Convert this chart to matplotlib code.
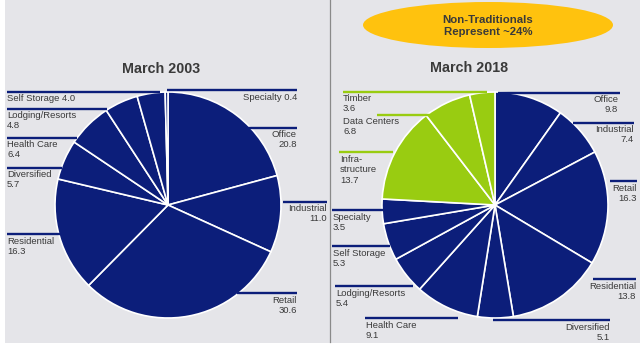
import matplotlib
matplotlib.use("Agg")
import matplotlib.pyplot as plt
from matplotlib.patches import Ellipse, Rectangle

# ---- data -------------------------------------------------------------
cats_2003 = ["Office", "Industrial", "Retail", "Residential", "Diversified",
             "Health Care", "Lodging/Resorts", "Self Storage", "Specialty"]
vals_2003 = [20.8, 11.0, 30.6, 16.3, 5.7, 6.4, 4.8, 4.0, 0.4]

cats_2018 = ["Office", "Industrial", "Retail", "Residential", "Diversified",
             "Health Care", "Lodging/Resorts", "Self Storage", "Specialty",
             "Infrastructure", "Data Centers", "Timber"]
vals_2018 = [9.8, 7.4, 16.3, 13.8, 5.1, 9.1, 5.4, 5.3, 3.5, 13.7, 6.8, 3.6]
non_traditional = ["Infrastructure", "Data Centers", "Timber"]

titles = ["March 2003", "March 2018"]
callout = "Non-Traditionals\nRepresent ~24%"

# ---- styling ----------------------------------------------------------
NAVY = "#0c1e7a"
GREEN = "#99cc11"
GOLD = "#ffc20e"
BG = "#e5e5e9"
TXT = "#3a3a3a"
FONT = "Liberation Sans"

W, H = 640, 348
fig = plt.figure(figsize=(6.4, 3.48), dpi=100)
ax = fig.add_axes([0, 0, 1, 1])


def Y(y):
    """Convert a top-down pixel row to the upward data axis."""
    return H - y


# panel background and divider
ax.add_patch(Rectangle((5, Y(343)), W - 5, 343, facecolor=BG, edgecolor="none", zorder=0))
ax.plot([330, 330], [Y(0), Y(342)], color="#8a8a8a", lw=0.9, zorder=1)

# pies
pie_specs = [
    (cats_2003, vals_2003, (168, 205), 113),
    (cats_2018, vals_2018, (495, 205), 113),
]
for cats, vals, (cx, cy), r in pie_specs:
    cols = [GREEN if c in non_traditional else NAVY for c in cats]
    ax.pie(vals, colors=cols, startangle=90, counterclock=False,
           center=(cx, Y(cy)), radius=r, frame=True,
           wedgeprops=dict(edgecolor="white", linewidth=1.2))

lab_2003 = dict(zip(cats_2003, vals_2003))
lab_2018 = dict(zip(cats_2018, vals_2018))

# label layout: (line_y, line_x0, line_x1, text_x, align, text_top, mode)
layout_2003 = {
    "Office":          (128, 240, 297, 297, "right", 130, None),
    "Industrial":      (202, 283, 327, 327, "right", 204, None),
    "Retail":          (293, 237, 297, 297, "right", 296, None),
    "Residential":     (234, 7, 60, 7, "left", 237, None),
    "Diversified":     (168, 7, 62, 7, "left", 170, None),
    "Health Care":     (138, 7, 77, 7, "left", 140, None),
    "Lodging/Resorts": (109, 7, 107, 7, "left", 111, None),
    "Self Storage":    (92, 7, 160, 7, "left", 94, "single"),
    "Specialty":       (90, 167, 297, 297, "right", 93, "single"),
}
layout_2018 = {
    "Office":          (93, 498, 620, 618, "right", 95, None),
    "Industrial":      (123, 573, 634, 634, "right", 125, None),
    "Retail":          (181, 610, 637, 637, "right", 184, None),
    "Residential":     (279, 593, 636, 636, "right", 282, None),
    "Diversified":     (320, 493, 610, 610, "right", 323, None),
    "Health Care":     (318, 365, 458, 366, "left", 321, None),
    "Lodging/Resorts": (286, 335, 413, 336, "left", 289, None),
    "Self Storage":    (246, 332, 390, 333, "left", 249, None),
    "Specialty":       (210, 332, 383, 333, "left", 213, None),
    "Infrastructure":  (152, 339, 393, 340, "left", 155, "Infra-\nstructure"),
    "Data Centers":    (115, 377, 430, 343, "left", 117, None),
    "Timber":          (92, 343, 487, 343, "left", 94, None),
}

for labs, layout in ((lab_2003, layout_2003), (lab_2018, layout_2018)):
    for cat, (ly, x0, x1, tx, ha, ty, mode) in layout.items():
        v = labs[cat]
        col = GREEN if cat in non_traditional else NAVY
        ax.plot([x0, x1], [Y(ly), Y(ly)], color=col, lw=1.7,
                solid_capstyle="butt", zorder=3)
        if mode == "single":
            s = f"{cat} {v:.1f}"
        elif mode:
            s = f"{mode}\n{v:.1f}"
        else:
            s = f"{cat}\n{v:.1f}"
        ax.text(tx, Y(ty), s, ha=ha, va="top", fontsize=6.8, family=FONT,
                color=TXT, linespacing=1.2, multialignment=ha, zorder=4)

# titles
ax.text(161, Y(69), titles[0], ha="center", va="center", fontsize=10.3,
        fontweight="bold", family=FONT, color=TXT)
ax.text(469, Y(68), titles[1], ha="center", va="center", fontsize=10.3,
        fontweight="bold", family=FONT, color=TXT)

# callout ellipse
ax.add_patch(Ellipse((488, Y(25)), 250, 46, facecolor=GOLD, edgecolor="none", zorder=2))
ax.text(488, Y(26), callout, ha="center", va="center", fontsize=8.2,
        fontweight="bold", family=FONT, color=TXT, linespacing=1.3, zorder=3)

ax.set_xlim(0, W)
ax.set_ylim(0, H)
ax.set_aspect("auto")
ax.axis("off")

fig.savefig("out.png", dpi=100, facecolor="white")
